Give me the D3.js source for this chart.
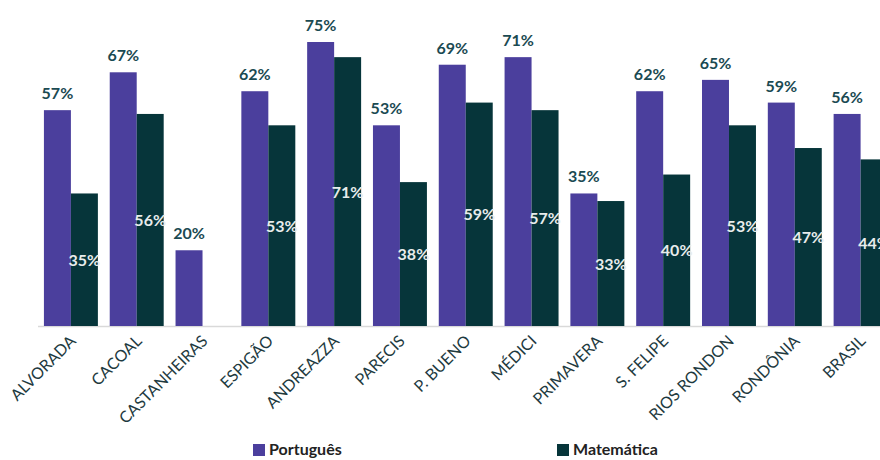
<!DOCTYPE html>
<html>
<head>
<meta charset="utf-8">
<script src="https://cdn.jsdelivr.net/npm/d3@7"></script>
<style>
  body { margin: 0; background: #fff; }
  svg { display: block; font-family: Lato, "Open Sans", sans-serif; }
</style>
</head>
<body>
<svg id="chart" width="880" height="460"></svg>
<script>
// municipalities (x categories)
var categories = ["ALVORADA", "CACOAL", "CASTANHEIRAS", "ESPIGÃO", "ANDREAZZA", "PARECIS",
  "P. BUENO", "MÉDICI", "PRIMAVERA", "S. FELIPE", "RIOS RONDON", "RONDÔNIA", "BRASIL"];
// percentages per subject (null = no value)
var portugues = [57, 67, 20, 62, 75, 53, 69, 71, 35, 62, 65, 59, 56];
var matematica = [35, 56, null, 53, 71, 38, 59, 57, 33, 40, 53, 47, 44];
var seriesNames = ["Português", "Matemática"];
var seriesColors = ["#4b3f9d", "#06353a"];

var svg = d3.select("#chart");
var baseline = 326;

// x scale for groups
var x = d3.scaleBand()
  .domain(categories)
  .range([38, 893.5])
  .paddingInner(0.18)
  .paddingOuter(0.09);

var x1 = d3.scaleBand()
  .domain(seriesNames)
  .range([0, x.bandwidth()]);

var y = d3.scaleLinear()
  .domain([0, 75])
  .range([baseline, 42]);

var rows = categories.map(function (c, i) {
  return { name: c, values: [portugues[i], matematica[i]] };
});

// axis line
svg.append("line")
  .attr("x1", 38).attr("x2", 880)
  .attr("y1", baseline + 0.5).attr("y2", baseline + 0.5)
  .attr("stroke", "#d9d9d9")
  .attr("stroke-width", 1.5);

var groups = svg.selectAll("g.group")
  .data(rows)
  .join("g")
  .attr("class", "group")
  .attr("transform", function (d) { return "translate(" + x(d.name) + ",0)"; });

groups.selectAll("rect")
  .data(function (d) {
    return d.values.map(function (v, j) { return { key: seriesNames[j], value: v, j: j }; })
      .filter(function (e) { return e.value != null; });
  })
  .join("rect")
  .attr("x", function (d) { return x1(d.key); })
  .attr("width", x1.bandwidth())
  .attr("y", function (d) { return y(d.value); })
  .attr("height", function (d) { return baseline - y(d.value); })
  .attr("fill", function (d) { return seriesColors[d.j]; });

// Português labels above the bar
groups.append("text")
  .attr("x", x1("Português") + x1.bandwidth() / 2)
  .attr("y", function (d) { return y(d.values[0]) - 11; })
  .attr("text-anchor", "middle")
  .attr("font-size", 16)
  .attr("font-weight", "bold")
  .attr("fill", "#1b4a52")
  .text(function (d) { return d.values[0] + "%"; });

// Matemática labels inside the bar, centered
groups.filter(function (d) { return d.values[1] != null; })
  .append("text")
  .attr("x", x1("Matemática") + x1.bandwidth() / 2)
  .attr("y", function (d) { return (y(d.values[1]) + baseline) / 2 + 6; })
  .attr("text-anchor", "middle")
  .attr("font-size", 16)
  .attr("font-weight", "bold")
  .attr("fill", "#e8ecec")
  .text(function (d) { return d.values[1] + "%"; });

// rotated category labels
svg.append("g")
  .selectAll("text")
  .data(categories)
  .join("text")
  .attr("transform", function (d) {
    return "translate(" + (x(d) + x.bandwidth() / 2 + 6) + "," + (baseline + 16) + ") rotate(-45)";
  })
  .attr("text-anchor", "end")
  .attr("font-size", 16)
  .attr("fill", "#1e3a40")
  .text(function (d) { return d; });

// legend
var legendX = [253, 557];
var legend = svg.append("g")
  .selectAll("g")
  .data(seriesNames)
  .join("g")
  .attr("transform", function (d, i) { return "translate(" + legendX[i] + ",443)"; });

legend.append("rect")
  .attr("width", 12).attr("height", 12)
  .attr("y", 1)
  .attr("fill", function (d, i) { return seriesColors[i]; });

legend.append("text")
  .attr("x", 16)
  .attr("y", 12)
  .attr("font-size", 16)
  .attr("font-weight", "bold")
  .attr("fill", "#222")
  .text(function (d) { return d; });
</script>
</body>
</html>
